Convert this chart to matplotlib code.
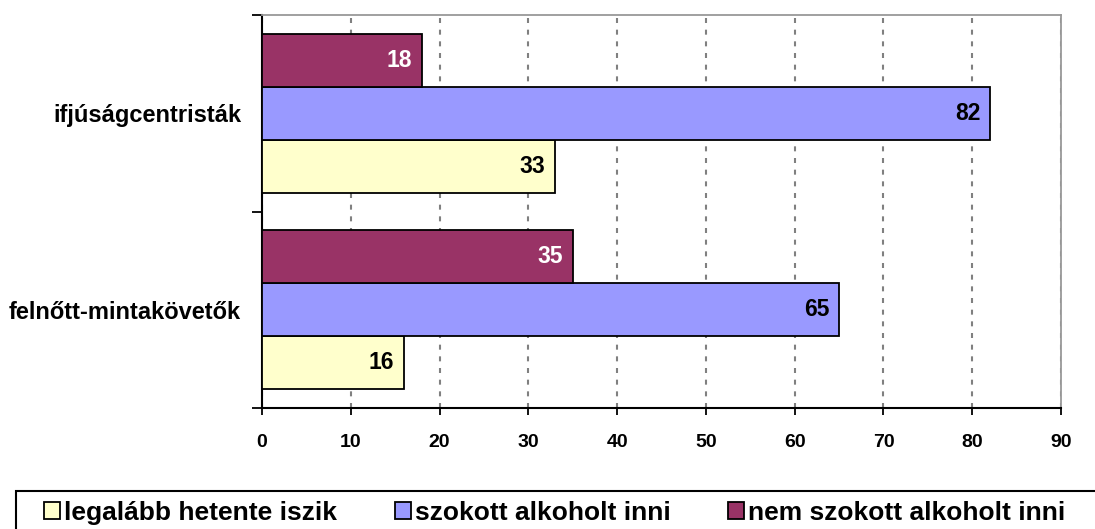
import numpy as np
import matplotlib
matplotlib.use("Agg")
from matplotlib import pyplot as plt
from matplotlib.patches import Patch, Rectangle

plt.rcParams['font.family'] = ['Liberation Sans', 'DejaVu Sans']
plt.rcParams['font.weight'] = 'bold'

#-------------adatok-------------
kategoriak = ["felnőtt-mintakövetők", "ifjúságcentristák"]
sorozatok = ["legalább hetente iszik", "szokott alkoholt inni", "nem szokott alkoholt inni"]
hetente = [16, 33]
szokott = [65, 82]
nem_szokott = [35, 18]
xtick_ertekek = [0, 10, 20, 30, 40, 50, 60, 70, 80, 90]

szinek = ["#FFFFCC", "#9999FF", "#993366"]
felirat_szin = ["black", "black", "white"]

fig = plt.figure(figsize=(10.95, 5.29), dpi=100)
ax = fig.add_axes([262/1095, 1 - 408/529, (1061 - 262)/1095, (408 - 15)/529])

y = np.arange(len(kategoriak))
h = 0.27
adatok = [hetente, szokott, nem_szokott]
eltolas = [-h, 0, h]

for i in range(3):
    ax.barh(y + eltolas[i], adatok[i], height=h, color=szinek[i],
            edgecolor="black", linewidth=1.3, zorder=3)
    for j in range(len(kategoriak)):
        ax.annotate(str(adatok[i][j]), xy=(adatok[i][j], y[j] + eltolas[i]),
                    xytext=(-7, 0), textcoords="offset points",
                    ha="right", va="center", fontsize=16.5, fontweight="bold",
                    color=felirat_szin[i], zorder=4)

#-------tengelyek----
ax.set_xlim(0, 90)
ax.set_ylim(-0.5, 1.5)
ax.set_xticks(xtick_ertekek)
ax.set_xticklabels([str(v) for v in xtick_ertekek], fontsize=14, fontweight="bold")
ax.tick_params(axis="x", direction="out", length=5, width=1.3, pad=14)

ax.set_yticks([-0.5, 0.5, 1.5])
ax.set_yticklabels([])
ax.set_yticks(y, minor=True)
ax.set_yticklabels(kategoriak, minor=True, fontsize=17, fontweight="bold")
ax.tick_params(axis="y", which="major", direction="out", length=7, width=1.3)
ax.tick_params(axis="y", which="minor", length=0, pad=15)

ax.grid(axis="x", color="#808080", linestyle=(0, (2.4, 3.2)), linewidth=1.5, zorder=0)

ax.spines["left"].set_color("black")
ax.spines["left"].set_linewidth(1.5)
ax.spines["bottom"].set_color("black")
ax.spines["bottom"].set_linewidth(1.5)
ax.spines["top"].set_color("#999999")
ax.spines["top"].set_linewidth(1.3)
ax.spines["right"].set_color("#999999")
ax.spines["right"].set_linewidth(1.3)

#-------jelmagyarázat (a keret lelóg a képről)----
kezelok = [Patch(facecolor=szinek[i], edgecolor="black", linewidth=1.3) for i in range(3)]
leg = fig.legend(kezelok, sorozatok, loc="center left",
                 bbox_to_anchor=(44/1095, 1 - 513/529),
                 ncol=3, fontsize=19, frameon=False,
                 handlelength=0.6, handleheight=0.6, handletextpad=0.15,
                 columnspacing=2.2, borderaxespad=0, borderpad=0)
for t in leg.get_texts():
    t.set_fontweight("bold")

keret = Rectangle((16/1095, -0.05), 1.1, (529 - 491)/529 + 0.05,
                  transform=fig.transFigure, fill=False,
                  edgecolor="black", linewidth=1.5)
fig.patches.append(keret)

plt.savefig("out.png", dpi=100)
